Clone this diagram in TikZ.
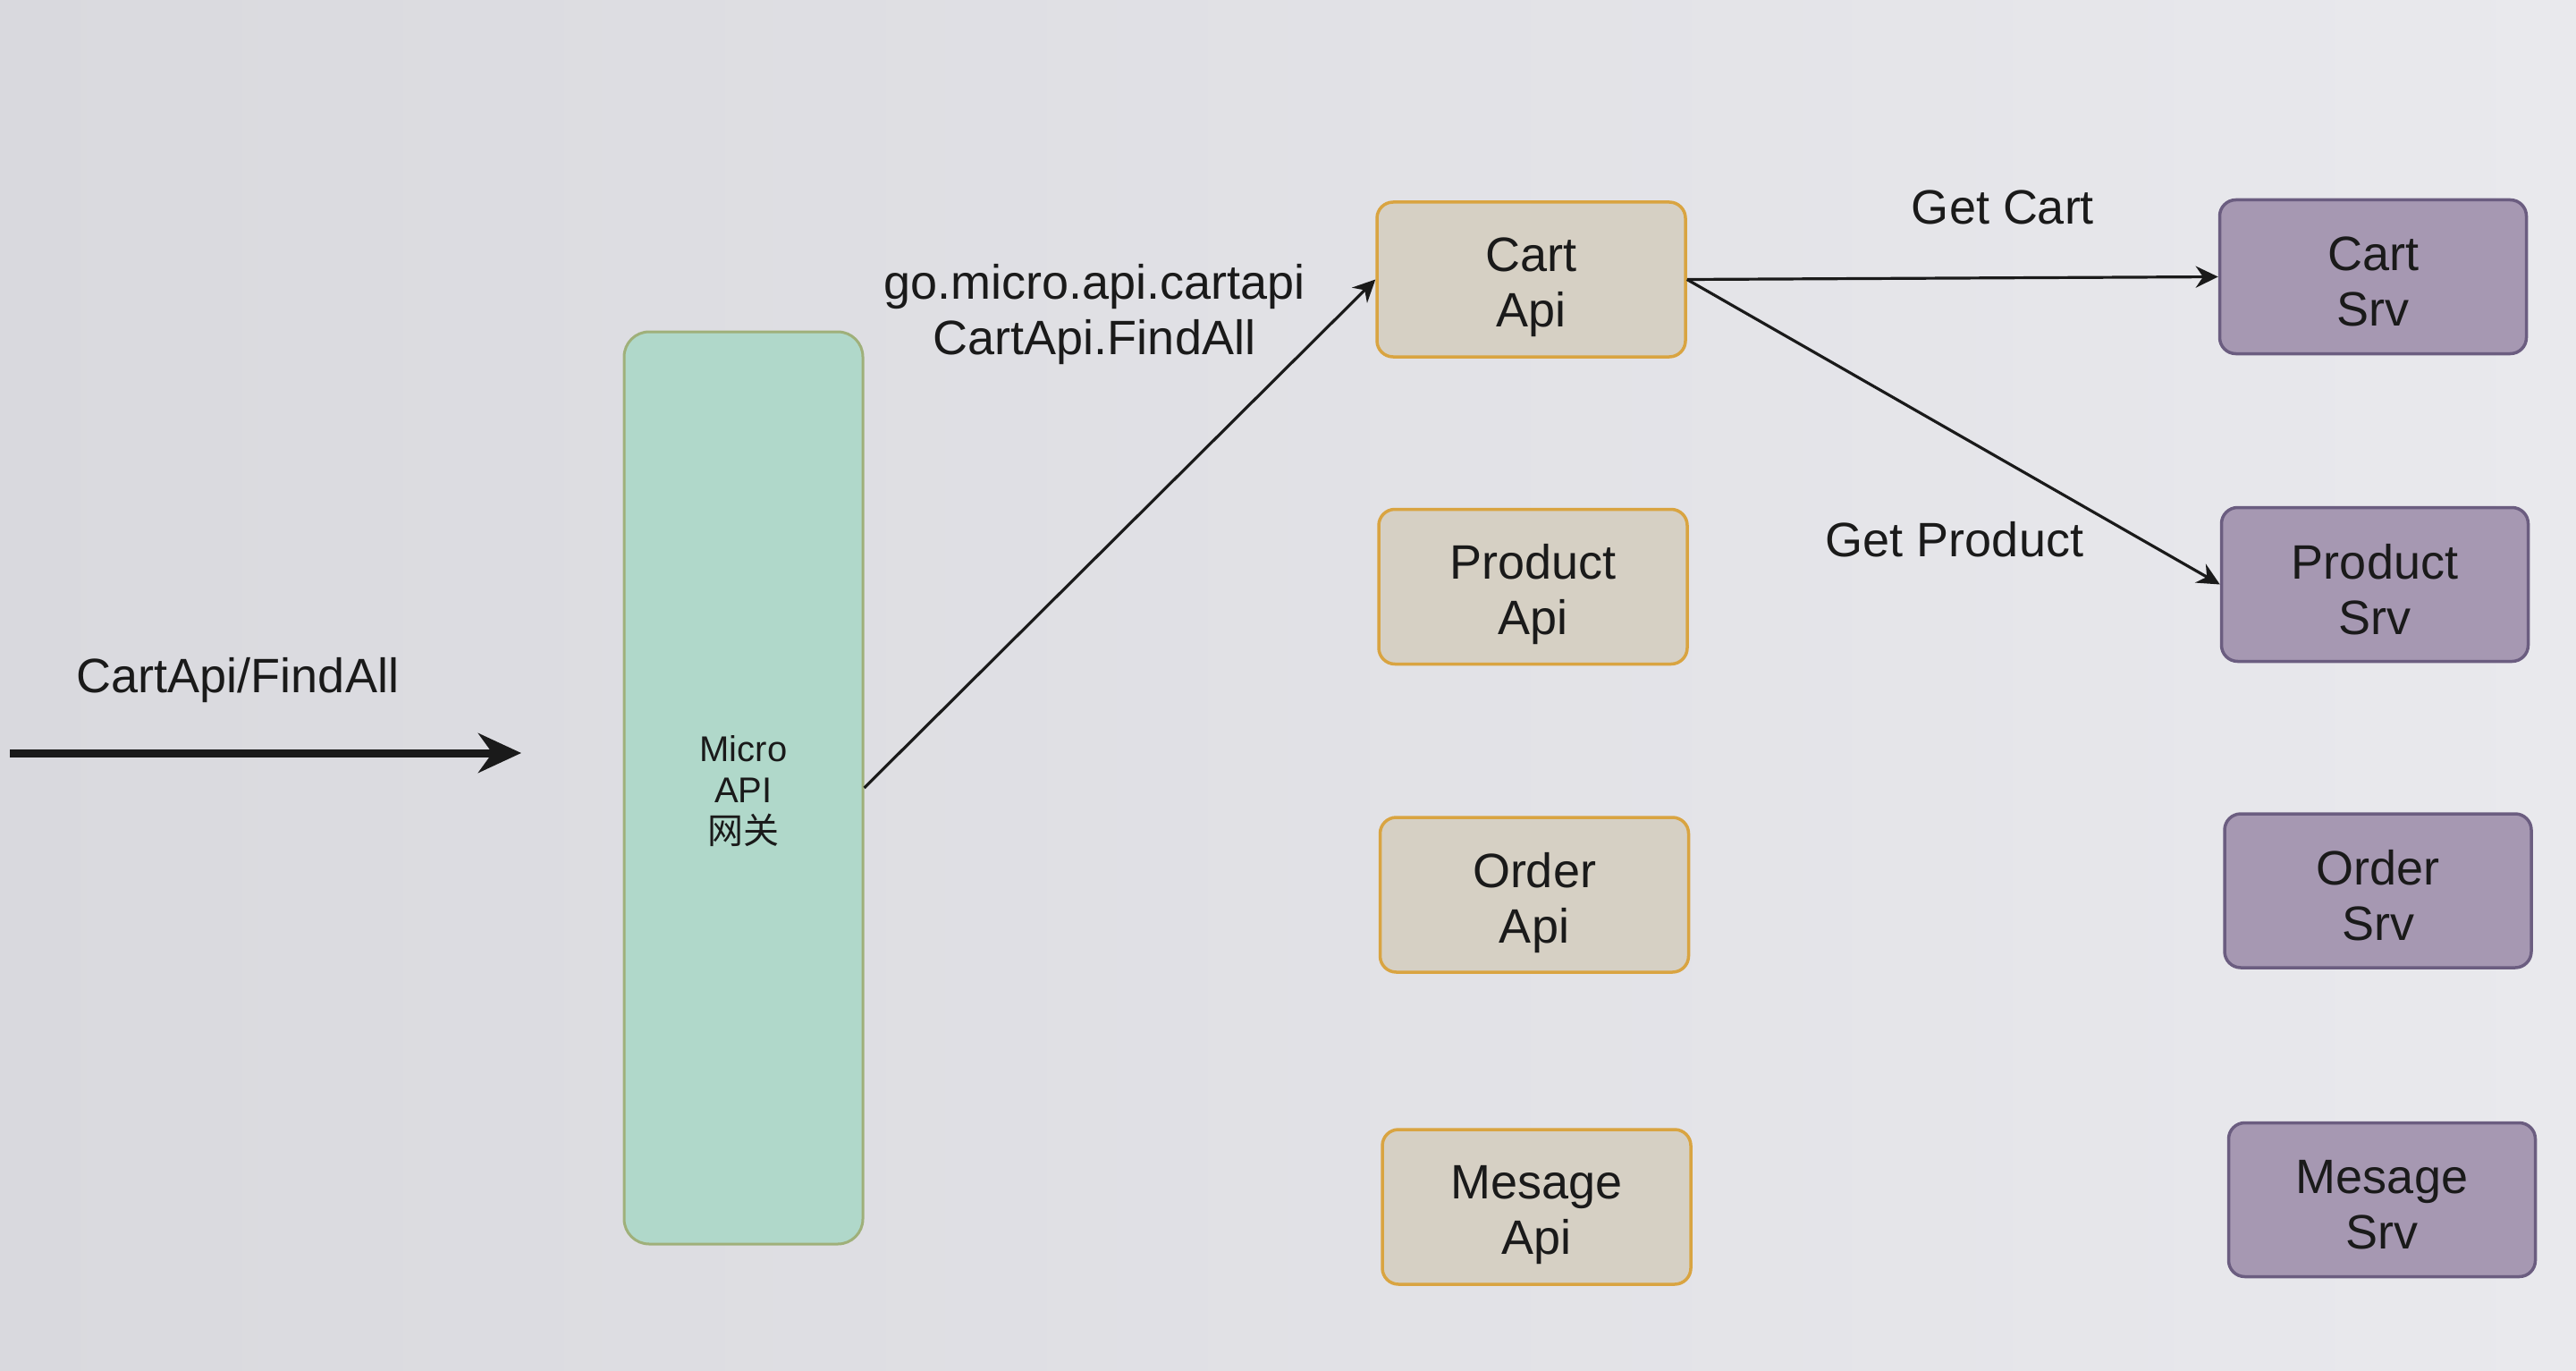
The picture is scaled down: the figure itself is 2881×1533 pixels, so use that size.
\documentclass[tikz,border=0pt]{standalone}
\usepackage{fontspec}
\setmainfont{Liberation Sans}
\newfontfamily\cjkfont{Noto Sans CJK SC}
\usetikzlibrary{arrows.meta}
\definecolor{bgL}{HTML}{D9D9DE}
\definecolor{bgR}{HTML}{E9E9ED}
\definecolor{gwFill}{HTML}{B0D8CA}
\definecolor{gwLine}{HTML}{9FB07A}
\definecolor{apiFill}{HTML}{D6D0C4}
\definecolor{apiLine}{HTML}{D9A441}
\definecolor{srvFill}{HTML}{A698B2}
\definecolor{srvLine}{HTML}{6B5D80}
\definecolor{ink}{HTML}{1A1A1A}
\tikzset{
  bigtext/.style={font=\fontsize{54}{62}\selectfont, text=ink},
  lbl/.style={bigtext, align=center, inner sep=0pt},
  apibox/.style={draw=apiLine, fill=apiFill, line width=3.5pt, rounded corners=18pt,
     minimum width=345pt, minimum height=173pt, inner sep=0pt},
  srvbox/.style={draw=srvLine, fill=srvFill, line width=3.5pt, rounded corners=18pt,
     minimum width=343pt, minimum height=172pt, inner sep=0pt},
  apitext/.style={label={[lbl, yshift=-9pt]center:{#1}}},
  srvtext/.style={label={[lbl, yshift=-5.5pt]center:{#1}}},
  gwbox/.style={draw=gwLine, fill=gwFill, line width=3pt, rounded corners=28pt,
     minimum width=267pt, minimum height=1020pt, inner sep=0pt},
  gwtext/.style={label={[align=center, inner sep=0pt, text=ink, font=\fontsize{40}{46}\selectfont, yshift=-4pt]center:{#1}}},
  conn/.style={draw=ink, line width=3.2pt, -{Stealth[length=25pt, width=24pt]}},
  bigarrow/.style={draw=ink, line width=9pt, -{Stealth[length=48pt, width=44pt]}},
}
\begin{document}
\begin{tikzpicture}[x=1pt, y=-1pt]
\shade[left color=bgL, right color=bgR] (0,0) rectangle (2881,1533);
\useasboundingbox (0,0) rectangle (2881,1533);

\node[gwbox, gwtext={Micro\\API\\{\cjkfont 网关}}] (gw) at (831.5,881) {};

\node[apibox, apitext={Cart\\Api}] (cartapi) at (1712.5,312.5) {};
\node[apibox, apitext={Product\\Api}] (prodapi) at (1714.5,656) {};
\node[apibox, apitext={Order\\Api}] (ordapi) at (1716,1000.5) {};
\node[apibox, apitext={Mesage\\Api}] (msgapi) at (1718.5,1349.5) {};

\node[srvbox, srvtext={Cart\\Srv}] (cartsrv) at (2654,309.5) {};
\node[srvbox, srvtext={Product\\Srv}] (prodsrv) at (2656,653.5) {};
\node[srvbox, srvtext={Order\\Srv}] (ordsrv) at (2659.5,996) {};
\node[srvbox, srvtext={Mesage\\Srv}] (msgsrv) at (2664,1341.5) {};

\coordinate (inStart) at (11,842);
\coordinate (inEnd) at (583,842);
\draw[bigarrow] (inStart) -- (inEnd);

\node[lbl] (reqlbl) at (266,761) {CartApi/FindAll};
\node[lbl] (routelbl) at (1224,352) {go.micro.api.cartapi\\CartApi.FindAll};
\node[lbl] (getcart) at (2240,232) {Get Cart};
\node[lbl] (getprod) at (2186,603) {Get Product};

\draw[conn] (gw.east) -- (cartapi.west);
\draw[conn] (cartapi.east) -- (cartsrv.west);
\draw[conn] (cartapi.east) -- (prodsrv.west);
\end{tikzpicture}
\end{document}
